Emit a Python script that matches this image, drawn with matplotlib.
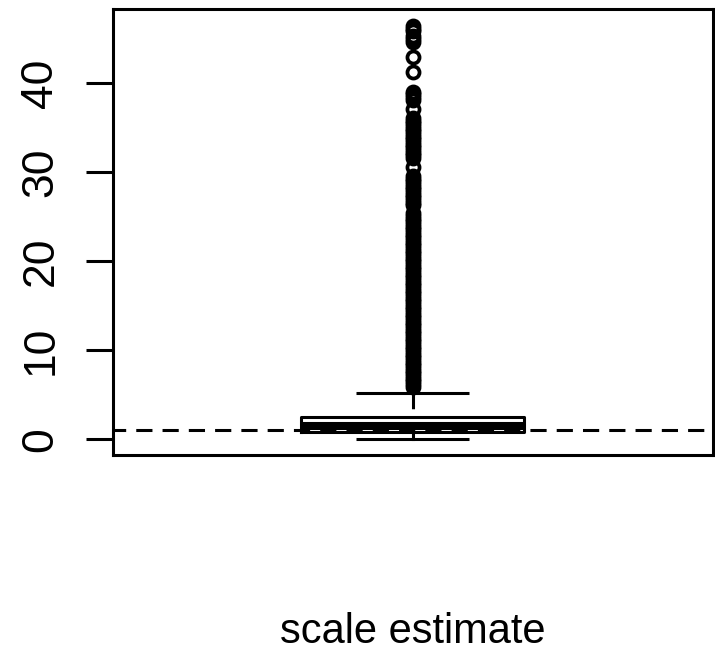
import matplotlib.pyplot as plt

# box summary
q1 = 0.85
median = 1.5
q3 = 2.55
whisker_low = 0.0
whisker_high = 5.15
ref_level = 1.0  # dashed horizontal reference line

# outliers above the upper whisker (the lower part is a solid stack of circles)
outliers_top = [46.47, 46.10, 45.88, 45.32, 44.98, 44.64, 42.99, 41.27]
outliers_upper = [39.02, 38.80, 38.46, 38.13, 37.11,
                  36.1, 35.8, 35.5, 35.2, 34.9, 34.6, 34.3, 34.0, 33.7, 33.4,
                  33.1, 32.8, 32.5, 32.2, 31.9, 31.6, 30.6,
                  29.6, 29.3, 29.0, 28.7, 28.4, 28.1, 27.8, 27.5, 27.2, 26.9,
                  26.6, 26.35]
outliers_lower = [25.4, 25.1, 24.8, 24.5, 24.2, 23.9, 23.6, 23.3, 23.0, 22.7,
                  22.4, 22.1, 21.8, 21.5, 21.2, 20.9, 20.6, 20.3, 20.0, 19.7,
                  19.4, 19.1, 18.8, 18.5, 18.2, 17.9, 17.6, 17.3, 17.0, 16.7,
                  16.4, 16.1, 15.8, 15.5, 15.2, 14.9, 14.6, 14.3, 14.0, 13.7,
                  13.4, 13.1, 12.8, 12.5, 12.2, 11.9, 11.6, 11.3, 11.0, 10.7,
                  10.4, 10.1, 9.8, 9.5, 9.2, 8.9, 8.6, 8.3, 8.0, 7.7,
                  7.4, 7.1, 6.8, 6.5, 6.2, 5.9]

yticks = [0, 10, 20, 30, 40]
xlabel = "scale estimate"

fliers = outliers_top + outliers_upper + outliers_lower
stats = [dict(med=median, q1=q1, q3=q3, whislo=whisker_low, whishi=whisker_high,
              fliers=fliers)]

lw = 2.2  # about 3 px

fig = plt.figure(figsize=(7.15, 6.55), dpi=100)
ax = fig.add_axes([112.5 / 715, 1 - 455 / 655, 600 / 715, 446 / 655])

parts = ax.bxp(stats, positions=[1], widths=0.372, capwidths=0.188,
               boxprops=dict(color='black', linewidth=lw),
               medianprops=dict(color='black', linewidth=5.8, solid_capstyle='butt'),
               whiskerprops=dict(color='black', linewidth=lw,
                                 linestyle=(5.9, (5.3, 3.3))),
               capprops=dict(color='black', linewidth=lw, solid_capstyle='butt'),
               flierprops=dict(marker='o', markersize=8.7, markerfacecolor='none',
                               markeredgecolor='black', markeredgewidth=2.7,
                               linestyle='none'))
parts['whiskers'][0].set_linestyle('-')

ax.axhline(ref_level, color='black', linewidth=lw, linestyle=(1.15, (5.3, 3.3)),
           zorder=5)

ax.set_xlim(0.5, 1.5)
ax.set_ylim(-1.76, 48.35)
ax.set_xticks([])
ax.set_yticks(yticks)
ax.set_yticklabels([str(t) for t in yticks], rotation=90, va='center',
                   family=['Liberation Sans Narrow', 'Liberation Sans', 'DejaVu Sans'],
                   fontsize=32)
ax.tick_params(axis='y', length=19.5, width=lw, pad=17.4, color='black')
for sp in ax.spines.values():
    sp.set_linewidth(lw)
    sp.set_color('black')

fig.text(412.5 / 715, 12 / 655, xlabel, ha='center', va='baseline', fontsize=30,
         family=['Liberation Sans', 'DejaVu Sans'])

fig.savefig('out.png', dpi=100)
